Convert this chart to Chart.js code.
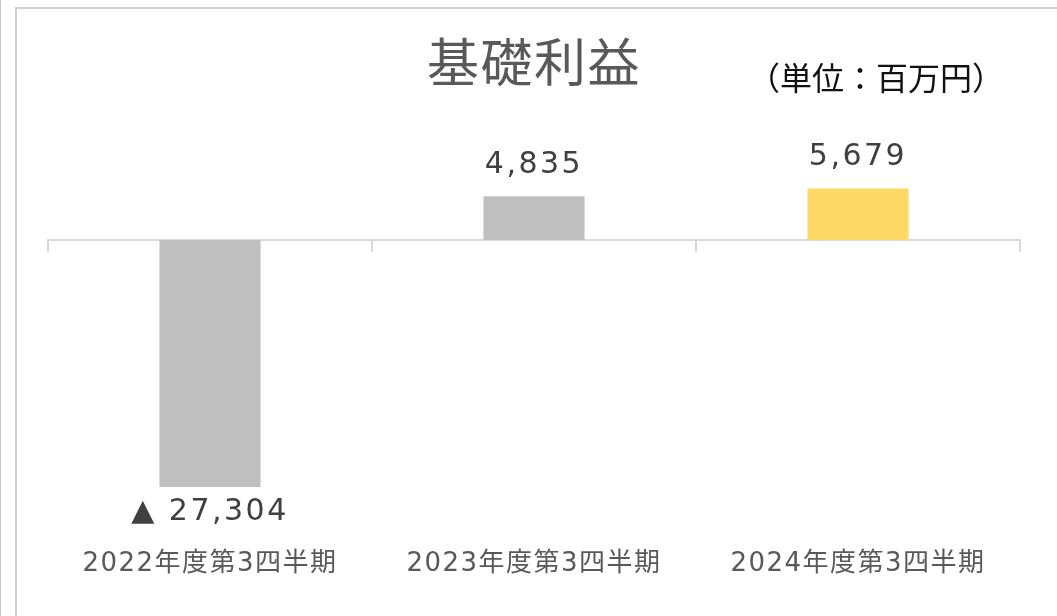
<!DOCTYPE html>
<html>
<head>
<meta charset="utf-8">
<script src="https://cdn.jsdelivr.net/npm/chart.js@4/dist/chart.umd.min.js"></script>
<style>
  html, body { margin: 0; padding: 0; background: #fff; }
  #wrap { position: absolute; left: 0; top: 0; width: 1057px; height: 616px; overflow: hidden; }
  #edge { position: absolute; left: 0; top: 0; width: 1px; height: 616px; background: #c4c4c4; }
  #frame { position: absolute; left: 15px; top: 7px; width: 1100px; height: 700px; border-left: 2px solid #d0d0d0; border-top: 2px solid #d0d0d0; }
  #box { position: absolute; left: 0; top: 0; width: 1057px; height: 616px; }
</style>
</head>
<body>
<div id="wrap">
  <div id="edge"></div>
  <div id="frame"></div>
  <div id="box"><canvas id="c"></canvas></div>
</div>
<script>
const categories = ['2022年度第3四半期', '2023年度第3四半期', '2024年度第3四半期'];
const values = [-27304, 4835, 5679];
const titleText = '基礎利益';
const unitText = '（単位：百万円）';
const yMin = -27304;
const yMax = 10000;

const labelFont = "'DejaVu Sans', 'Noto Sans CJK JP', sans-serif";

const textPlugin = {
  id: 'texts',
  beforeDraw(chart) {
    chart.ctx.letterSpacing = '1.5px';
  },
  afterDatasetsDraw(chart) {
    const ctx = chart.ctx;
    const meta = chart.getDatasetMeta(0);
    ctx.save();
    ctx.letterSpacing = '2.5px';
    ctx.font = "30px " + labelFont;
    ctx.fillStyle = '#404040';
    ctx.textAlign = 'center';
    ctx.textBaseline = 'middle';
    meta.data.forEach((bar, i) => {
      const v = values[i];
      const txt = v < 0 ? '▲ ' + Math.abs(v).toLocaleString('en-US') : v.toLocaleString('en-US');
      const y = v < 0 ? bar.y + 25 : bar.y - 31;
      ctx.fillText(txt, bar.x, y);
    });
    // unit label
    ctx.letterSpacing = '0px';
    ctx.font = "32px 'Noto Sans CJK JP', sans-serif";
    ctx.fillStyle = '#111111';
    ctx.fillText(unitText, chart.chartArea.right - 144, 78);
    ctx.restore();
  }
};

new Chart(document.getElementById('c'), {
  type: 'bar',
  data: {
    labels: categories,
    datasets: [{
      data: values,
      backgroundColor: ['#bfbfbf', '#bfbfbf', '#ffd966'],
      borderWidth: 0,
      barPercentage: 0.312,
      categoryPercentage: 1.0,
      xAxisID: 'x',
      yAxisID: 'y'
    }]
  },
  options: {
    responsive: true,
    maintainAspectRatio: false,
    animation: false,
    layout: { padding: { left: 48, right: 37, top: 0, bottom: 34 } },
    plugins: {
      legend: { display: false },
      tooltip: { enabled: false },
      title: {
        display: true,
        text: titleText,
        color: '#595959',
        font: { family: "'Noto Sans CJK JP', sans-serif", size: 52, weight: 'normal' },
        padding: { top: 31, bottom: 56 }
      }
    },
    scales: {
      y: {
        display: false,
        min: yMin,
        max: yMax
      },
      x: {
        type: 'category',
        position: { y: 0 },
        offset: true,
        afterFit(scale) { scale.height = 0; },
        grid: {
          display: true,
          offset: true,
          drawOnChartArea: false,
          drawTicks: true,
          tickLength: 11,
          color: '#d9d9d9',
          lineWidth: 2
        },
        border: { display: true, color: '#d9d9d9', width: 2 },
        ticks: { display: false }
      },
      x2: {
        type: 'category',
        position: 'bottom',
        offset: true,
        afterFit(scale) { scale.height = 95; },
        grid: { display: false, drawTicks: false },
        border: { display: false },
        ticks: {
          color: '#595959',
          padding: 62,
          maxRotation: 0,
          autoSkip: false,
          font: { family: labelFont, size: 26 }
        }
      }
    }
  },
  plugins: [textPlugin]
});
</script>
</body>
</html>
